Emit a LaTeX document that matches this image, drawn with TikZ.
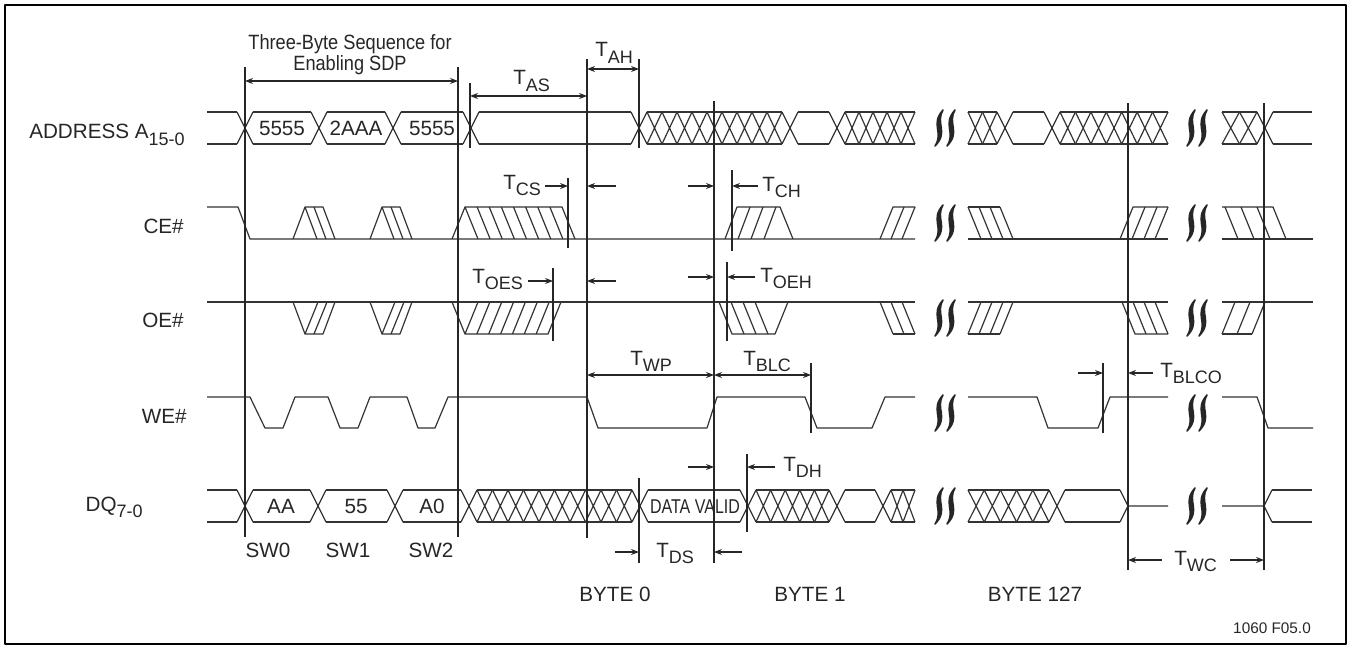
\documentclass[tikz,border=0pt]{standalone}
\usepackage{fontspec}
\setmainfont{Liberation Sans}
\newfontfamily\narrowfont[FakeStretch=0.88]{Liberation Sans}
\newfontfamily\condfont[FakeStretch=0.8]{Liberation Sans}
\usetikzlibrary{arrows.meta}
\newcommand\lowsub[1]{\raisebox{-0.3em}{\fontsize{13.5}{13.5}\selectfont #1}}
% bus crossing at x=#1, top #2, bottom #3
\newcommand\bx[3]{\draw ({#1-8},#2) -- ({#1+8},#3) ({#1-8},#3) -- ({#1+8},#2);}
% flat bus lines from #1 to #2
\newcommand\bflat[4]{\draw (#1,#3) -- (#2,#3) (#1,#4) -- (#2,#4);}
% hatched (invalid) bus from #1 to #2
\newcommand\bhatch[4]{%
  \pgfmathtruncatemacro\hn{max(1,round((#2-#1)/15))}%
  \pgfmathsetmacro\hw{(#2-#1)/\hn}%
  \draw (#1,#3) -- (#2,#3) (#1,#4) -- (#2,#4);
  \foreach \k in {1,...,\hn}{\draw ({#1+(\k-1)*\hw},#3) -- ({#1+\k*\hw},#4) ({#1+(\k-1)*\hw},#4) -- ({#1+\k*\hw},#3);}}
% break mark: two thick S strokes
\newcommand\brkS[3]{%
  \foreach \dx in {-6,6}{\filldraw[brkmark] ({#1+\dx+4},#2) .. controls ({#1+\dx-9},{#2+0.40*(#3-#2)}) and ({#1+\dx+5},{#2+0.62*(#3-#2)}) .. ({#1+\dx-4},#3) .. controls ({#1+\dx+10},{#2+0.60*(#3-#2)}) and ({#1+\dx-4},{#2+0.38*(#3-#2)}) .. cycle;}}
\tikzset{
  wire/.style={line width=0.9pt, draw=black!80},
  gridline/.style={line width=0.9pt, draw=black!85},
  dimarr/.style={line width=0.85pt, draw=black!85, -{Stealth[length=6pt,width=4.5pt]}},
  dimboth/.style={line width=0.85pt, draw=black!85, {Stealth[length=6pt,width=4.5pt]}-{Stealth[length=6pt,width=4.5pt]}},
  lbl/.style={inner sep=0pt, text=black!85, font=\fontsize{15.5}{18}\selectfont},
  nlbl/.style={inner sep=0pt, text=black!85, font=\narrowfont\fontsize{15.5}{18}\selectfont},
  smalllbl/.style={inner sep=0pt, text=black!85, font=\condfont\fontsize{15}{16}\selectfont},
  tinylbl/.style={inner sep=0pt, text=black!85, font=\fontsize{11.5}{14}\selectfont},
  brkmark/.style={line width=1.2pt, line join=round, draw=black!85, fill=black!85}
}
\begin{document}
\begin{tikzpicture}[x=0.75pt,y=-0.75pt,line join=round]
\useasboundingbox (0,0) rectangle (1351,649);
\draw[line width=2pt] (5,5) rectangle (1346,644);

% ---------- signal names ----------
\node[lbl,anchor=base east] (nA)  at (185,139) {ADDRESS A\lowsub{15-0}};
\node[lbl,anchor=base east] (nCE) at (184,233) {CE\#};
\node[lbl,anchor=base east] (nOE) at (184,327) {OE\#};
\node[lbl,anchor=base east] (nWE) at (187,423) {WE\#};
\node[lbl,anchor=base east] (nDQ) at (143,511) {DQ\lowsub{7-0}};

\begin{scope}[wire]
% ---------- ADDRESS ----------
\bflat{207}{237}{112}{144}
\bx{245}{112}{144}
\bflat{253}{311}{112}{144}
\bx{319}{112}{144}
\bflat{327}{385}{112}{144}
\bx{393}{112}{144}
\bflat{401}{463}{112}{144}
\bx{471}{112}{144}
\bflat{479}{631}{112}{144}
\bx{639}{112}{144}
\bhatch{647}{782}{112}{144}
\bx{790}{112}{144}
\bflat{798}{829}{112}{144}
\bx{837}{112}{144}
\bhatch{845}{915}{112}{144}
\bhatch{968}{997}{112}{144}
\bx{1005}{112}{144}
\bflat{1013}{1044}{112}{144}
\bx{1052}{112}{144}
\bhatch{1060}{1168}{112}{144}
\bhatch{1222}{1257}{112}{144}
\bx{1265}{112}{144}
\bflat{1273}{1312}{112}{144}

% ---------- CE# ----------
\draw (207,207) -- (238,207) -- (250,239) -- (915,239);
\draw (968,239) -- (1168,239);
\draw (1222,239) -- (1313,239);
\foreach \s in {0,77}{
  \draw ({293+\s},239) -- ({305+\s},207) -- ({323+\s},207) -- ({335+\s},239);
  \draw ({305+\s},207) -- ({317+\s},239) ({314+\s},207) -- ({326+\s},239);}
\draw (452,239) -- (465,207) -- (562,207) -- (575,239);
\foreach \k in {0,...,7}{\draw ({465+12.125*\k},207) -- ({478+12.125*\k},239);}
\draw (725,239) -- (737,207) -- (780,207) -- (793,239);
\foreach \k in {1,2,3}{\draw ({725+13*\k},239) -- ({737+13*\k},207);}
\draw (880,239) -- (893,207) -- (915,207);
\draw (891,239) -- (904,207) (902,239) -- (915,207);
\draw (968,207) -- (1000,207);
\foreach \k in {968,979,990,1000}{\draw (\k,207) -- ({\k+13},239);}
\draw (1120,239) -- (1133,207) -- (1168,207);
\draw (1132,239) -- (1145,207) (1144,239) -- (1157,207) (1155,239) -- (1168,207);
\draw (1222,207) -- (1273,207) -- (1286,239);
\foreach \k in {1225,1241,1257}{\draw (\k,207) -- ({\k+13},239);}

% ---------- OE# ----------
\draw (207,302) -- (915,302);
\draw (968,302) -- (1168,302);
\draw (1222,302) -- (1313,302);
\foreach \s in {0,77}{
  \draw ({293+\s},302) -- ({305+\s},334) -- ({323+\s},334) -- ({335+\s},302);
  \draw ({305+\s},334) -- ({318+\s},302) ({314+\s},334) -- ({327+\s},302);}
\draw (452,302) -- (465,334) -- (548,334) -- (561,302);
\foreach \k in {0,...,6}{\draw ({465+11.86*\k},334) -- ({478+11.86*\k},302);}
\draw (719,302) -- (732,334) -- (775,334) -- (788,302);
\foreach \k in {731,743,755}{\draw (\k,302) -- ({\k+13},334);}
\draw (880,302) -- (893,334) (891,302) -- (904,334) (902,302) -- (915,334);
\draw (893,334) -- (915,334);
\draw (968,334) -- (1000,334);
\foreach \k in {968,979,990,1000}{\draw (\k,334) -- ({\k+13},302);}
\draw (1122,302) -- (1135,334) -- (1168,334);
\draw (1133,302) -- (1146,334) (1144,302) -- (1157,334) (1155,302) -- (1168,334);
\draw (1222,334) -- (1252,334);
\draw (1222,334) -- (1235,302) (1237,334) -- (1250,302) (1252,334) -- (1265,302);

% ---------- WE# ----------
\draw (207,397) -- (250,397) -- (265,428) -- (283,428) -- (295,397) -- (328,397) -- (340,428) -- (358,428) -- (370,397) -- (407,397) -- (418,428) -- (435,428) -- (448,397) -- (587,397) -- (598,428) -- (707,428) -- (717,397) -- (805,397) -- (817,428) -- (872,428) -- (885,397) -- (915,397);
\draw (968,397) -- (1037,397) -- (1048,428) -- (1098,428) -- (1110,397) -- (1168,397);
\draw (1222,397) -- (1257,397) -- (1268,428) -- (1313,428);

% ---------- DQ ----------
\bflat{207}{237}{490}{522}
\bx{245}{490}{522}
\bflat{253}{310}{490}{522}
\bx{318}{490}{522}
\bflat{326}{387}{490}{522}
\bx{395}{490}{522}
\bflat{403}{461}{490}{522}
\bx{469}{490}{522}
\bhatch{477}{632}{490}{522}
\bx{640}{490}{522}
\bflat{648}{740}{490}{522}
\bx{748}{490}{522}
\bhatch{756}{829}{490}{522}
\bx{837}{490}{522}
\bflat{845}{875}{490}{522}
\bx{883}{490}{522}
\bhatch{891}{915}{490}{522}
\bhatch{968}{1049}{490}{522}
\bx{1057}{490}{522}
\bflat{1065}{1120}{490}{522}
\draw (1120,490) -- (1128,506) -- (1120,522) (1128,506) -- (1168,506);
\draw (1222,506) -- (1264,506) (1272,490) -- (1264,506) -- (1272,522);
\bflat{1272}{1312}{490}{522}
\end{scope}

% ---------- breaks ----------
\foreach \bxx in {945,1197}{
  \brkS{\bxx}{110}{146}
  \brkS{\bxx}{205}{241}
  \brkS{\bxx}{300}{336}
  \brkS{\bxx}{395}{431}
  \brkS{\bxx}{488}{524}}

% ---------- bus values ----------
\node[lbl] (a1) at (282,128) {5555};
\node[lbl] (a2) at (356,128) {2AAA};
\node[lbl] (a3) at (432,128) {5555};
\node[lbl] (d1) at (281,506) {AA};
\node[lbl] (d2) at (356,506) {55};
\node[lbl] (d3) at (432,506) {A0};
\node[smalllbl] (dv) at (695,507) {DATA VALID};

% ---------- reference lines ----------
\draw[gridline] (245,67) -- (245,537);
\draw[gridline] (458,67) -- (458,537);
\draw[gridline] (470,83) -- (470,148);
\draw[gridline] (587,59) -- (587,538);
\draw[gridline] (639,59) -- (639,148);
\draw[gridline] (714,101) -- (714,563);
\draw[gridline] (639,478) -- (639,563);
\draw[gridline] (568,178) -- (568,248);
\draw[gridline] (732,170) -- (732,251);
\draw[gridline] (553,268) -- (553,341);
\draw[gridline] (727,262) -- (727,341);
\draw[gridline] (811,363) -- (811,433);
\draw[gridline] (747,454) -- (747,532);
\draw[gridline] (1103,363) -- (1103,433);
\draw[gridline] (1128,103) -- (1128,570);
\draw[gridline] (1264,103) -- (1264,570);

% ---------- dimensions ----------
\node[nlbl,anchor=base] (ttl1) at (350,50) {Three-Byte Sequence for};
\node[nlbl,anchor=base] (ttl2) at (350,71) {Enabling SDP};
\draw[dimboth] (245,81) -- (458,81);

\node[lbl,anchor=base west] (tAS) at (513,85) {T\lowsub{AS}};
\draw[dimboth] (470,96) -- (587,96);
\node[lbl,anchor=base west] (tAH) at (595,57) {T\lowsub{AH}};
\draw[dimboth] (587,69) -- (639,69);

\node[lbl,anchor=base west] (tCS) at (503,189) {T\lowsub{CS}};
\draw[dimarr] (545,186) -- (568,186);
\draw[dimarr] (616,186) -- (587,186);
\draw[dimarr] (688,186) -- (714,186);
\draw[dimarr] (758,186) -- (732,186);
\node[lbl,anchor=base west] (tCH) at (762,191) {T\lowsub{CH}};

\node[lbl,anchor=base west] (tOES) at (472,283) {T\lowsub{OES}};
\draw[dimarr] (528,281) -- (553,281);
\draw[dimarr] (616,281) -- (587,281);
\draw[dimarr] (688,277) -- (714,277);
\draw[dimarr] (755,277) -- (727,277);
\node[lbl,anchor=base west] (tOEH) at (760,282) {T\lowsub{OEH}};

\node[lbl,anchor=base west] (tWP) at (630,365) {T\lowsub{WP}};
\draw[dimboth] (587,375) -- (714,375);
\node[lbl,anchor=base west] (tBLC) at (743,365) {T\lowsub{BLC}};
\draw[dimboth] (714,375) -- (811,375);

\draw[dimarr] (1078,373) -- (1103,373);
\draw[dimarr] (1153,373) -- (1128,373);
\node[lbl,anchor=base west] (tBLCO) at (1160,377) {T\lowsub{BLCO}};

\draw[dimarr] (688,467) -- (714,467);
\draw[dimarr] (775,467) -- (747,467);
\node[lbl,anchor=base west] (tDH) at (783,471) {T\lowsub{DH}};

\draw[dimarr] (615,552) -- (639,552);
\draw[dimarr] (742,552) -- (714,552);
\node[lbl,anchor=base west] (tDS) at (656,557) {T\lowsub{DS}};

\draw[dimarr] (1162,560) -- (1128,560);
\draw[dimarr] (1230,560) -- (1264,560);
\node[lbl,anchor=base west] (tWC) at (1174,565) {T\lowsub{WC}};

% ---------- bottom labels ----------
\node[lbl,anchor=base] (sw0) at (268,557) {SW0};
\node[lbl,anchor=base] (sw1) at (348,557) {SW1};
\node[lbl,anchor=base] (sw2) at (431,557) {SW2};
\node[lbl,anchor=base] (b0) at (615,601) {BYTE 0};
\node[lbl,anchor=base] (b1) at (810,601) {BYTE 1};
\node[lbl,anchor=base] (b127) at (1035,601) {BYTE 127};
\node[tinylbl,anchor=base] (fig) at (1272,633) {1060 F05.0};
\end{tikzpicture}
\end{document}
